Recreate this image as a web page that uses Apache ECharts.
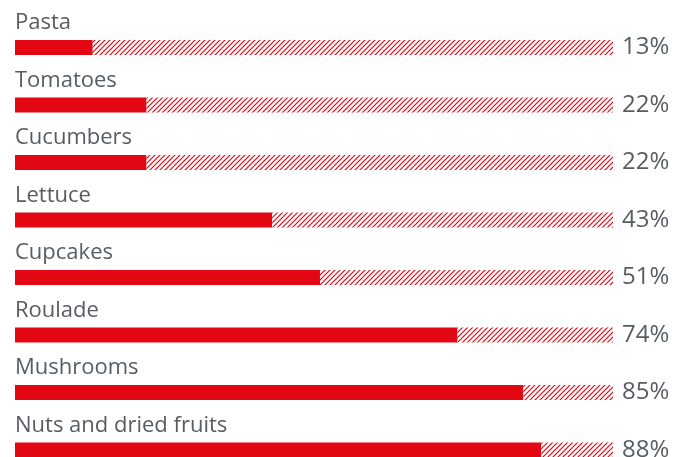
<!DOCTYPE html>
<html>
<head>
<meta charset="utf-8">
<script src="https://cdn.jsdelivr.net/npm/echarts@6/dist/echarts.min.js"></script>
<style>html,body{margin:0;padding:0;background:#fff;}#c{width:677px;height:457px;}</style>
</head>
<body>
<div id="c"></div>
<script>
const categories = ['Pasta', 'Tomatoes', 'Cucumbers', 'Lettuce', 'Cupcakes', 'Roulade', 'Mushrooms', 'Nuts and dried fruits'];
const values = [13, 22, 22, 43, 51, 74, 85, 88];
const total = 100;
const remainders = values.map(v => total - v);

const RED = '#e30613';
const TEXT = '#575d62';
const FONT = 'Open Sans';

function hatch() {
  const s = 5;
  const cv = document.createElement('canvas');
  cv.width = s; cv.height = s;
  const ctx = cv.getContext('2d');
  ctx.fillStyle = '#fff';
  ctx.fillRect(0, 0, s, s);
  ctx.strokeStyle = RED;
  ctx.lineWidth = 1.2;
  ctx.beginPath();
  ctx.moveTo(-1, s + 1); ctx.lineTo(s + 1, -1);
  ctx.moveTo(-1, 1); ctx.lineTo(1, -1);
  ctx.moveTo(s - 1, s + 1); ctx.lineTo(s + 1, s - 1);
  ctx.stroke();
  return cv;
}

const chart = echarts.init(document.getElementById('c'));
chart.setOption({
  animation: false,
  grid: { left: 15, right: 64, top: 47.5, bottom: 7, containLabel: false },
  xAxis: { type: 'value', min: 0, max: total, show: false },
  yAxis: { type: 'category', data: categories, inverse: true, show: false, boundaryGap: false },
  series: [
    {
      type: 'bar',
      stack: 'a',
      data: values,
      barWidth: 15,
      itemStyle: { color: RED },
      label: {
        show: true,
        position: [0, -6],
        verticalAlign: 'bottom',
        align: 'left',
        color: TEXT,
        fontFamily: FONT,
        fontSize: 22,
        formatter: p => categories[p.dataIndex]
      },
      silent: true
    },
    {
      type: 'bar',
      stack: 'a',
      data: remainders,
      barWidth: 15,
      itemStyle: { color: { image: hatch(), repeat: 'repeat' } },
      label: {
        show: true,
        position: 'right',
        distance: 9,
        color: TEXT,
        fontFamily: FONT,
        fontSize: 24,
        formatter: p => values[p.dataIndex] + '%'
      },
      silent: true
    }
  ]
});
</script>
</body>
</html>
